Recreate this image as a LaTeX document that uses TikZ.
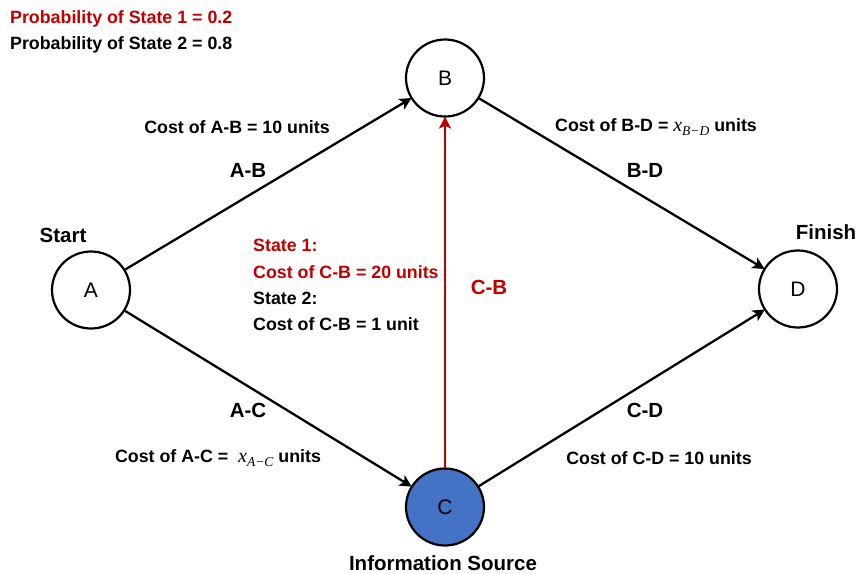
\documentclass[tikz,border=0pt]{standalone}
\usepackage{fontspec}
\setmainfont{Liberation Sans}
\newfontfamily\lserif{Liberation Serif}
\usetikzlibrary{arrows.meta,shapes.geometric}
\definecolor{darkred}{RGB}{192,0,0}
\definecolor{cblue}{RGB}{68,114,196}
\newcommand{\xsub}[1]{{\lserif\mdseries\itshape\fontsize{20}{22}\selectfont x\raisebox{-3.5pt}{\fontsize{13.5}{15}\selectfont #1}}}
\begin{document}
\begin{tikzpicture}[x=1pt,y=-1pt,
  vert/.style={draw=black,line width=2.2pt,ellipse,minimum width=78pt,minimum height=77pt,inner sep=0pt,font=\fontsize{21}{24}\selectfont},
  lbl/.style={font=\bfseries\fontsize{17.8}{20}\selectfont,inner sep=0pt},
  big/.style={font=\bfseries\fontsize{20.5}{24}\selectfont,inner sep=0pt},
  edge/.style={line width=2.3pt,-{Stealth[length=12pt,width=12pt,inset=3pt]},shorten >=-1pt}]
\useasboundingbox (0,0) rectangle (858,573);
\node[vert] (A) at (91,290) {A};
\node[vert] (B) at (445,78) {B};
\node[vert,fill=cblue] (C) at (445,507) {C};
\node[vert] (D) at (798,289) {D};
\draw[edge] (A) -- (B);
\draw[edge] (B) -- (D);
\draw[edge] (A) -- (C);
\draw[edge] (C) -- (D);
\draw[edge,darkred] (C) -- (B);
\node[lbl,anchor=west,text=darkred] (p1) at (10,19) {Probability of State 1 = 0.2};
\node[lbl,anchor=west] (p2) at (10,45) {Probability of State 2 = 0.8};
\node[lbl] (cab) at (237,127) {Cost of A-B = 10 units};
\node[big] (ab) at (248,170) {A-B};
\node[big] (start) at (63,235) {Start};
\node[lbl] (cbd) at (656,127) {Cost of B-D = \xsub{B−D} units};
\node[big] (bd) at (645,170) {B-D};
\node[big] (fin) at (826,232) {Finish};
\node[lbl,anchor=west,text=darkred] (s1) at (253,245) {State 1:};
\node[lbl,anchor=west,text=darkred] (s1c) at (253,272) {Cost of C-B = 20 units};
\node[lbl,anchor=west] (s2) at (253,298) {State 2:};
\node[lbl,anchor=west] (s2c) at (253,324) {Cost of C-B = 1 unit};
\node[big,text=darkred] (cb) at (489,287) {C-B};
\node[big] (ac) at (248,410) {A-C};
\node[lbl] (cac) at (218,458) {Cost of A-C = \ \xsub{A−C} units};
\node[big] (cd) at (645,410) {C-D};
\node[lbl] (ccd) at (659,458) {Cost of C-D = 10 units};
\node[big] (info) at (443,563) {Information Source};
\end{tikzpicture}
\end{document}
